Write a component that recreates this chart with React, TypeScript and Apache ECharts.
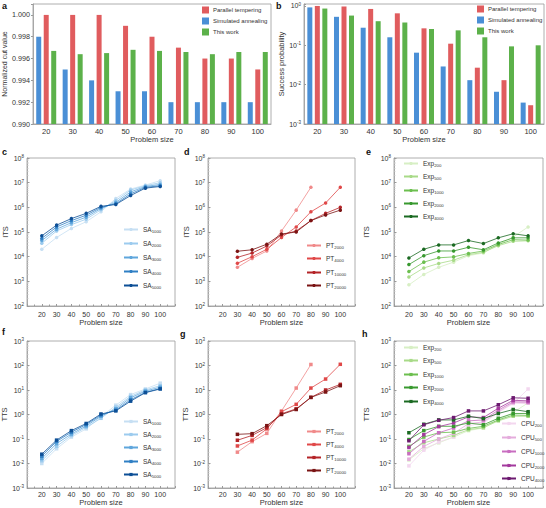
import React, { useEffect, useRef } from 'react';
import * as echarts from 'echarts';

// ---------- data ----------
const problemSizes = [20, 30, 40, 50, 60, 70, 80, 90, 100];
const ptSizes = [30, 40, 50, 60, 70, 80, 90, 100];

const cutSA = [0.998, 0.995, 0.994, 0.993, 0.993, 0.992, 0.992, 0.992, 0.992];
const cutPT = [1.0, 1.0, 1.0, 0.999, 0.998, 0.997, 0.996, 0.996, 0.995];
const cutOurs = [0.9967, 0.9964, 0.9965, 0.9968, 0.9967, 0.9966, 0.9964, 0.9966, 0.9966];

const succSA = [0.92, 0.53, 0.28, 0.16, 0.065, 0.029, 0.013, 0.0066, 0.0035];
const succPT = [1.0, 0.97, 0.84, 0.65, 0.27, 0.11, 0.027, 0.013, 0.003];
const succOurs = [0.86, 0.57, 0.41, 0.38, 0.26, 0.24, 0.16, 0.094, 0.1];

const saSweeps = ['1000', '2000', '3000', '4000', '5000'];
const saITS = [
  [2.0e4, 6.0e4, 1.4e5, 2.6e5, 6.6e5, 2.3e6, 5.5e6, 8.0e6, 1.2e7],
  [3.5e4, 1.1e5, 2.0e5, 3.3e5, 8.0e5, 1.9e6, 5.0e6, 7.5e6, 1.0e7],
  [4.5e4, 1.3e5, 2.4e5, 4.0e5, 9.0e5, 1.6e6, 4.2e6, 7.0e6, 8.5e6],
  [5.5e4, 1.6e5, 2.9e5, 4.8e5, 1.0e6, 1.4e6, 3.5e6, 6.5e6, 7.5e6],
  [7.0e4, 1.9e5, 3.5e5, 5.7e5, 1.1e6, 1.3e6, 3.0e6, 6.0e6, 7.0e6],
];
const saTTS = [
  [1.0e-2, 4.0e-2, 1.2e-1, 2.6e-1, 8.0e-1, 2.4, 6.5, 11, 19],
  [1.3e-2, 5.0e-2, 1.4e-1, 3.0e-1, 7.0e-1, 2.0, 5.5, 10, 15],
  [1.6e-2, 6.5e-2, 1.6e-1, 3.4e-1, 8.5e-1, 1.7, 4.8, 9.0, 13],
  [2.0e-2, 8.0e-2, 1.9e-1, 3.9e-1, 9.5e-1, 1.5, 4.0, 8.0, 11.5],
  [2.4e-2, 9.0e-2, 2.2e-1, 4.3e-1, 1.05, 1.4, 3.5, 7.8, 11],
];

const ptSweeps = ['2000', '4000', '10000', '20000'];
const ptITS = [
  [3.7e3, 8.5e3, 1.7e4, 1.1e5, 7.7e5, 6.5e6, null, null],
  [5.4e3, 1.0e4, 2.0e4, 6.0e4, 1.6e5, 6.6e5, 1.5e6, 6.5e6],
  [9.4e3, 1.4e4, 2.7e4, 7.6e4, 1.1e5, 2.9e5, 5.7e5, 1.0e6],
  [1.66e4, 1.9e4, 3.2e4, 8.3e4, 1.0e5, 2.9e5, 4.9e5, 7.7e5],
];
const ptTTS = [
  [2.9e-2, 7.8e-2, 0.17, 1.4, 12, 110, null, null],
  [5.2e-2, 9.0e-2, 0.26, 1.3, 2.6, 12, 28, 112],
  [8.9e-2, 0.14, 0.29, 1.07, 1.7, 5.0, 10, 17],
  [0.155, 0.165, 0.35, 1.0, 1.6, 5.0, 8.3, 15],
];

const expSweeps = ['200', '500', '1000', '2000', '4000'];
const expITS = [
  [7.2e2, 1.9e3, 3.7e3, 6.0e3, 1.1e4, 1.4e4, 3.1e4, 6.3e4, 1.6e5],
  [1.5e3, 3.5e3, 5.3e3, 7.2e3, 1.2e4, 1.5e4, 2.8e4, 4.2e4, 4.4e4],
  [2.5e3, 6.0e3, 9.0e3, 9.8e3, 1.35e4, 1.7e4, 3.1e4, 4.9e4, 4.7e4],
  [4.8e3, 1.1e4, 1.7e4, 1.7e4, 2.4e4, 1.9e4, 3.6e4, 5.8e4, 5.8e4],
  [8.9e3, 2.0e4, 3.0e4, 3.0e4, 4.5e4, 3.4e4, 5.8e4, 8.5e4, 7.0e4],
];
const expTTS = [
  [0.014, 0.04, 0.07, 0.12, 0.22, 0.28, 0.6, 1.2, 3.0],
  [0.03, 0.07, 0.1, 0.14, 0.24, 0.29, 0.55, 0.85, 0.85],
  [0.05, 0.12, 0.18, 0.19, 0.27, 0.33, 0.6, 0.95, 0.92],
  [0.095, 0.22, 0.33, 0.33, 0.45, 0.38, 0.7, 1.1, 1.1],
  [0.18, 0.4, 0.6, 0.6, 0.85, 0.68, 1.1, 1.6, 1.3],
];
const cpuSweeps = ['200', '500', '1000', '2000', '4000'];
const cpuTTS = [
  [0.008, 0.035, 0.075, 0.12, 0.35, 0.45, 1.2, 2.8, 11],
  [0.015, 0.05, 0.1, 0.17, 0.42, 0.5, 1.3, 3.0, 2.9],
  [0.025, 0.08, 0.18, 0.28, 0.55, 0.6, 1.5, 3.3, 3.2],
  [0.045, 0.15, 0.32, 0.45, 0.8, 0.75, 1.8, 3.8, 3.6],
  [0.085, 0.38, 0.58, 0.75, 1.4, 1.4, 2.5, 4.8, 4.6],
];

// ---------- styles ----------
const FONT = 'Arial, "Liberation Sans", Helvetica, sans-serif';
const RED = '#e05c5e';
const BLUE = '#4a8fd6';
const GREEN = '#5cb14a';
const SA_COLORS = ['#c6dff3', '#9ccbee', '#5fa6dc', '#2f7fc4', '#0d4f96'];
const PT_COLORS = ['#f08a8a', '#e04848', '#b42428', '#7a1414'];
const EXP_COLORS = ['#d7efc4', '#a8da88', '#6cbf4f', '#38992f', '#1b6a22'];
const CPU_COLORS = ['#f3d7ef', '#e4acdc', '#c86dc0', '#a3399d', '#6d1a70'];
const FRAME = '#9a9a9a';
const TXT = '#333';

const grids = [
  { left: 33, top: 4, width: 238, height: 120 },
  { left: 304, top: 4, width: 240, height: 120 },
  { left: 27, top: 158, width: 148, height: 148 },
  { left: 208, top: 158, width: 147, height: 148 },
  { left: 394, top: 158, width: 149, height: 148 },
  { left: 27, top: 341, width: 148, height: 147 },
  { left: 208, top: 341, width: 147, height: 147 },
  { left: 394, top: 341, width: 149, height: 147 },
];

const supRich = {
  sup: { fontSize: 4.5, verticalAlign: 'top' as const, fontFamily: FONT, color: TXT, padding: [0, 0, 3, 0] },
  base: { fontSize: 7, fontFamily: FONT, color: TXT },
};
const logFmt = (v: number) => `{base|10}{sup|${Math.round(Math.log10(v))}}`;

function buildOption() {
  const xAxis: any[] = [];
  const yAxis: any[] = [];
  const series: any[] = [];
  const legend: any[] = [];

  const nameStyle = { fontSize: 7.5, color: TXT, fontFamily: FONT };

  // a & b: category x axes
  for (let i = 0; i < 2; i++) {
    xAxis.push({
      type: 'category', gridIndex: i, data: problemSizes.map(String),
      name: 'Problem size', nameLocation: 'middle', nameGap: 11, nameTextStyle: nameStyle,
      axisLine: { lineStyle: { color: FRAME, width: 0.8 } },
      axisTick: { show: false },
      axisLabel: { fontSize: 7.5, color: TXT, fontFamily: FONT, margin: 3 },
    });
  }
  yAxis.push({
    type: 'value', gridIndex: 0, min: 0.99, max: 1.001, interval: 0.002,
    name: 'Normalized cut value', nameLocation: 'middle', nameGap: 21,
    nameTextStyle: { fontSize: 7, color: TXT, fontFamily: FONT },
    axisLine: { show: true, lineStyle: { color: FRAME, width: 0.8 } },
    axisTick: { show: true, length: 2, lineStyle: { color: FRAME } },
    splitLine: { show: false },
    axisLabel: {
      fontSize: 7.2, color: TXT, fontFamily: FONT, margin: 3,
      formatter: (v: number) => {
        const k = Math.round((v - 0.99) / 0.002);
        return Math.abs(v - (0.99 + k * 0.002)) < 1e-7 ? v.toFixed(3) : '';
      },
    },
  });
  yAxis.push({
    type: 'value', gridIndex: 1, min: 0, max: 3.05, interval: 1,
    name: 'Success probability', nameLocation: 'middle', nameGap: 18, nameTextStyle: nameStyle,
    axisLine: { show: true, lineStyle: { color: FRAME, width: 0.8 } },
    axisTick: { show: true, inside: true, length: 2, lineStyle: { color: FRAME } },
    splitLine: { show: false },
    axisLabel: {
      color: TXT, margin: 3,
      formatter: (v: number) => (Math.abs(v - Math.round(v)) < 1e-6 ? `{base|10}{sup|${Math.round(v) - 3}}` : ''),
      rich: supRich,
    },
  });

  const barCommon = { type: 'bar', barWidth: 5, barGap: '50%' };
  const toLog = (arr: number[]) => arr.map((v) => Math.log10(v) + 3);
  series.push({ ...barCommon, name: 'Simulated annealing', xAxisIndex: 0, yAxisIndex: 0, data: cutSA, itemStyle: { color: BLUE } });
  series.push({ ...barCommon, name: 'Parallel tempering', xAxisIndex: 0, yAxisIndex: 0, data: cutPT, itemStyle: { color: RED } });
  series.push({ ...barCommon, name: 'This work', xAxisIndex: 0, yAxisIndex: 0, data: cutOurs, itemStyle: { color: GREEN } });
  series.push({ ...barCommon, name: 'Simulated annealing', xAxisIndex: 1, yAxisIndex: 1, data: toLog(succSA), itemStyle: { color: BLUE } });
  series.push({ ...barCommon, name: 'Parallel tempering', xAxisIndex: 1, yAxisIndex: 1, data: toLog(succPT), itemStyle: { color: RED } });
  series.push({ ...barCommon, name: 'This work', xAxisIndex: 1, yAxisIndex: 1, data: toLog(succOurs), itemStyle: { color: GREEN } });

  const barLegend = (left: number, top: number) => ({
    left, top, orient: 'vertical', itemWidth: 7, itemHeight: 7, itemGap: 4, padding: 0,
    selectedMode: false, icon: 'rect',
    data: ['Parallel tempering', 'Simulated annealing', 'This work'],
    textStyle: { fontSize: 6, color: TXT, fontFamily: FONT, padding: [0, 0, 0, -1] },
  });
  legend.push(barLegend(202, 6.5));
  legend.push(barLegend(477, 5.5));

  // c-h
  const yNames = ['ITS', 'ITS', 'ITS', 'TTS', 'TTS', 'TTS'];
  const yGaps = [17, 18, 24, 17, 18, 24];
  for (let i = 2; i < 8; i++) {
    const its = i < 5;
    xAxis.push({
      type: 'value', gridIndex: i, min: 10, max: 110, interval: 10,
      name: 'Problem size', nameLocation: 'middle', nameGap: its ? 12 : 10, nameTextStyle: nameStyle,
      axisLine: { lineStyle: { color: FRAME, width: 0.8 } },
      axisTick: { show: true, inside: true, length: 2, lineStyle: { color: FRAME } },
      minorTick: { show: true, splitNumber: 2, length: 1.5, lineStyle: { color: FRAME } },
      splitLine: { show: false },
      axisLabel: {
        fontSize: 7, color: TXT, fontFamily: FONT, margin: its ? 5 : 3,
        formatter: (v: number) => (v < 15 || v > 105 ? '' : String(v)),
      },
    });
    yAxis.push({
      type: 'log', logBase: 10, gridIndex: i,
      min: its ? 1e2 : 1e-3, max: its ? 1e8 : 1e3, interval: 1,
      name: yNames[i - 2], nameLocation: 'middle', nameGap: yGaps[i - 2], nameTextStyle: nameStyle,
      axisLine: { show: true, lineStyle: { color: FRAME, width: 0.8 } },
      axisTick: { show: true, inside: true, length: 2.5, lineStyle: { color: FRAME } },
      minorTick: { show: true, splitNumber: 9, length: 1.3, lineStyle: { color: '#bbb' } },
      splitLine: { show: false },
      minorSplitLine: { show: false },
      axisLabel: { margin: 3, formatter: logFmt, rich: supRich },
    });
  }

  const addLines = (
    panel: string, gi: number, base: string, subs: string[], colors: string[],
    values: (number | null)[][], xs: number[], symbol: string,
    legLeft: number, legCenters: number[],
  ) => {
    subs.forEach((sub, k) => {
      const name = `${panel}|${base}|${sub}`;
      const data = xs
        .map((x, j) => (values[k][j] == null ? null : [x, values[k][j]]))
        .filter((d) => d != null);
      series.push({
        type: 'line', name, xAxisIndex: gi, yAxisIndex: gi, data,
        symbol, symbolSize: 3.5, showSymbol: true,
        lineStyle: { width: 0.8, color: colors[k] },
        itemStyle: { color: colors[k] },
        z: 2 + k,
      });
      legend.push({
        left: legLeft, top: legCenters[k] - 4, orient: 'vertical', padding: 0,
        itemWidth: 14, itemHeight: 4, selectedMode: false, data: [name],
        formatter: (n: string) => {
          const p = n.split('|');
          return `{b|${p[1]}}{s|${p[2]}}`;
        },
        textStyle: {
          color: TXT, fontFamily: FONT, fontSize: 6.5,
          rich: {
            b: { fontSize: 6.5, fontFamily: FONT, color: TXT },
            s: { fontSize: 4.3, fontFamily: FONT, color: TXT, verticalAlign: 'bottom', padding: [3, 0, 0, 0] },
          },
        },
      });
    });
  };

  addLines('c', 2, 'SA', saSweeps, SA_COLORS, saITS, problemSizes, 'circle', 123, [230, 244, 258, 272, 286]);
  addLines('d', 3, 'PT', ptSweeps, PT_COLORS, ptITS, ptSizes, 'circle', 306, [246, 259, 273, 286]);
  addLines('e', 4, 'Exp', expSweeps, EXP_COLORS, expITS, problemSizes, 'circle', 403, [164, 177, 191, 204, 217]);
  addLines('f', 5, 'SA', saSweeps, SA_COLORS, saTTS, problemSizes, 'rect', 123, [422, 435, 448, 462, 475]);
  addLines('g', 6, 'PT', ptSweeps, PT_COLORS, ptTTS, ptSizes, 'rect', 306, [432, 445, 458, 471]);
  addLines('h', 7, 'Exp', expSweeps, EXP_COLORS, expTTS, problemSizes, 'rect', 403, [348, 361, 375, 388, 402]);
  addLines('h2', 7, 'CPU', cpuSweeps, CPU_COLORS, cpuTTS, problemSizes, 'rect', 501, [424, 438, 452, 466, 479]);

  const panelLabels = [
    ['a', 2, 1], ['b', 276, 1], ['c', 2, 147], ['d', 184, 147], ['e', 366, 147],
    ['f', 2, 327], ['g', 180, 329], ['h', 362, 329],
  ];

  return {
    animation: false,
    backgroundColor: '#fff',
    textStyle: { fontFamily: FONT },
    grid: grids.map((g) => ({
      ...g, show: true, borderColor: FRAME, borderWidth: 0.8, backgroundColor: 'transparent',
      containLabel: false, outerBoundsMode: 'none',
    })),
    xAxis, yAxis, series, legend,
    graphic: panelLabels.map(([t, x, y]) => ({
      type: 'text', left: x, top: y,
      style: { text: t as string, font: `bold 9px ${FONT}`, fill: '#111' },
    })),
  };
}

export default function App() {
  const ref = useRef<HTMLDivElement>(null);
  useEffect(() => {
    if (!ref.current) return;
    const chart = echarts.init(ref.current, null, { renderer: 'svg' });
    chart.setOption(buildOption() as any);
    return () => chart.dispose();
  }, []);
  return (
    <div
      ref={ref}
      style={{ position: 'fixed', left: 0, top: 0, width: 546, height: 508, background: '#fff' }}
    />
  );
}
